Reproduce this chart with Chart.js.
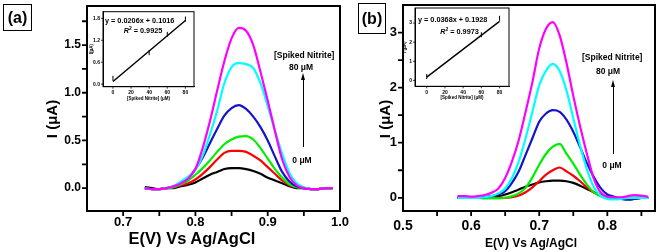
<!DOCTYPE html>
<html>
<head>
<meta charset="utf-8">
<script src="https://cdn.jsdelivr.net/npm/chart.js@4.4.0/dist/chart.umd.min.js"></script>
<style>
  body { margin: 0; background: #fff; }
  #wrap { position: relative; width: 661px; height: 252px; overflow: hidden; background: #fff; }
  canvas { position: absolute; }
  .t { position: absolute; white-space: nowrap; color: #000; line-height: 1;
       font-family: "Liberation Sans", Arial, sans-serif; font-weight: bold; }
  .mid { transform: translate(-50%, -50%); }
  .rot { transform: translate(-50%, -50%) rotate(-90deg); }
  .box { position: absolute; border: 1.5px solid #000; box-sizing: border-box; }
  .stem { position: absolute; width: 1.3px; background: #000; }
  .head { position: absolute; width: 0; height: 0; border-left: 2.5px solid transparent;
          border-right: 2.5px solid transparent; border-bottom: 7px solid #000; }
</style>
</head>
<body>
<div id="wrap">
  <canvas id="chartA" width="352" height="252" style="left:0;top:0"></canvas>
  <canvas id="chartB" width="331" height="252" style="left:330px;top:0"></canvas>
  <canvas id="insetA" width="114" height="96" style="left:89px;top:5px"></canvas>
  <canvas id="insetB" width="112" height="98" style="left:402px;top:2px"></canvas>

  <div class="box" style="left:3px;top:4px;width:29px;height:27px"></div>
  <div class="t mid" style="left:17.5px;top:18px;font-size:16px">(a)</div>
  <div class="box" style="left:358px;top:3px;width:28px;height:31px"></div>
  <div class="t mid" style="left:372px;top:19px;font-size:16px">(b)</div>

  <div class="t rot" style="left:51px;top:119px;font-size:15px">I (μA)</div>
  <div class="t rot" style="left:384px;top:119px;font-size:15px">I (μA)</div>
  <div class="t mid" style="left:192px;top:238px;font-size:16.5px">E(V) Vs Ag/AgCl</div>
  <div class="t mid" style="left:531px;top:243px;font-size:12px">E(V) Vs Ag/AgCl</div>

  <div class="t" style="left:105px;top:16.5px;font-size:7.3px">y = 0.0206x + 0.1016</div>
  <div class="t mid" style="left:143px;top:30px;font-size:7.3px"><i>R</i><sup style="font-size:5px">2</sup> = 0.9925</div>
  <div class="t" style="left:418px;top:16px;font-size:7.3px">y = 0.0368x + 0.1928</div>
  <div class="t mid" style="left:459.5px;top:30.5px;font-size:7.3px"><i>R</i><sup style="font-size:5px">2</sup> = 0.9973</div>

  <div class="t" style="left:274px;top:51px;font-size:8.5px">[Spiked Nitrite]</div>
  <div class="t mid" style="left:301px;top:67px;font-size:8.5px">80 μM</div>
  <div class="head" style="left:300.5px;top:73px"></div>
  <div class="stem" style="left:302.5px;top:78px;height:69px"></div>
  <div class="t mid" style="left:302px;top:160px;font-size:8.5px">0 μM</div>

  <div class="t" style="left:582px;top:53px;font-size:8.5px">[Spiked Nitrite]</div>
  <div class="t mid" style="left:608px;top:71px;font-size:8.5px">80 μM</div>
  <div class="head" style="left:610.5px;top:80px"></div>
  <div class="stem" style="left:612.5px;top:85px;height:69px"></div>
  <div class="t mid" style="left:612px;top:165px;font-size:8.5px">0 μM</div>
</div>

<script>
// panel (a): potential (V) and currents (uA)
const potentialA = [0.73, 0.74, 0.75, 0.76, 0.77, 0.78, 0.79, 0.80, 0.81, 0.82, 0.83, 0.84, 0.85, 0.86,
  0.87, 0.88, 0.89, 0.90, 0.91, 0.92, 0.93, 0.94, 0.95, 0.96, 0.97, 0.98, 0.99];
const blackA = [0.01, 0.0, -0.01, 0.0, 0.0, 0.02, 0.035, 0.06, 0.10, 0.14, 0.17, 0.20, 0.21, 0.21,
  0.20, 0.18, 0.15, 0.11, 0.08, 0.05, 0.02, 0.0, 0.0, -0.01, -0.01, 0.0, 0.0];
const redA = [0.0, -0.01, -0.01, 0.0, 0.01, 0.03, 0.05, 0.09, 0.15, 0.22, 0.30, 0.37, 0.39, 0.39,
  0.38, 0.34, 0.29, 0.22, 0.15, 0.08, 0.03, 0.01, 0.0, -0.01, -0.01, 0.0, 0.0];
const greenA = [0.0, -0.01, -0.01, 0.0, 0.01, 0.04, 0.08, 0.14, 0.21, 0.29, 0.38, 0.46, 0.51, 0.54,
  0.545, 0.51, 0.42, 0.31, 0.20, 0.11, 0.04, 0.01, 0.0, -0.01, -0.01, 0.0, 0.0];
const blueA = [0.0, -0.01, -0.01, 0.0, 0.02, 0.06, 0.11, 0.20, 0.32, 0.47, 0.62, 0.76, 0.84, 0.87,
  0.83, 0.75, 0.64, 0.50, 0.33, 0.17, 0.07, 0.02, 0.0, -0.01, -0.01, 0.0, 0.0];
const cyanA = [0.0, -0.01, -0.01, 0.0, 0.02, 0.07, 0.12, 0.19, 0.34, 0.56, 0.81, 1.10, 1.27, 1.31,
  1.30, 1.26, 1.10, 0.86, 0.60, 0.36, 0.16, 0.05, 0.01, -0.01, -0.01, 0.0, 0.0];
const magentaA = [0.0, -0.01, -0.01, 0.0, 0.02, 0.05, 0.10, 0.20, 0.42, 0.70, 1.02, 1.33, 1.57, 1.68,
  1.65, 1.50, 1.22, 0.92, 0.60, 0.30, 0.12, 0.03, 0.0, -0.01, -0.01, 0.0, 0.0];

// panel (b)
const potentialB = [0.58, 0.59, 0.60, 0.61, 0.62, 0.63, 0.64, 0.65, 0.66, 0.67, 0.68, 0.69, 0.70, 0.71,
  0.72, 0.73, 0.74, 0.75, 0.76, 0.77, 0.78, 0.79, 0.80, 0.81, 0.82, 0.83, 0.84, 0.85, 0.86];
const blackB = [0.0, 0.0, 0.0, 0.0, 0.0, 0.01, 0.03, 0.06, 0.10, 0.15, 0.20, 0.24, 0.28, 0.30,
  0.31, 0.31, 0.30, 0.27, 0.22, 0.16, 0.10, 0.05, 0.02, 0.0, -0.01, -0.03, -0.02, 0.0, 0.0];
const redB = [0.0, 0.0, 0.0, 0.0, 0.0, 0.0, 0.0, 0.0, 0.01, 0.04, 0.10, 0.19, 0.30, 0.42,
  0.50, 0.55, 0.48, 0.40, 0.30, 0.19, 0.10, 0.04, 0.01, 0.0, 0.0, 0.0, 0.0, 0.0, 0.0];
const greenB = [0.0, 0.0, 0.0, 0.0, -0.01, -0.01, -0.01, 0.0, 0.03, 0.08, 0.18, 0.37, 0.60, 0.80,
  0.93, 0.98, 0.80, 0.62, 0.42, 0.24, 0.10, 0.03, 0.0, 0.0, 0.0, 0.0, 0.0, 0.0, 0.0];
const blueB = [0.0, 0.0, 0.0, 0.0, 0.01, 0.03, 0.06, 0.12, 0.27, 0.48, 0.78, 1.08, 1.38, 1.53,
  1.59, 1.56, 1.42, 1.20, 0.92, 0.63, 0.38, 0.18, 0.06, 0.02, -0.02, -0.03, -0.02, 0.0, 0.0];
const cyanB = [0.0, 0.0, 0.0, 0.0, 0.01, 0.03, 0.08, 0.17, 0.36, 0.66, 1.08, 1.56, 2.04, 2.31,
  2.43, 2.30, 1.95, 1.45, 0.95, 0.52, 0.20, 0.04, -0.02, -0.03, -0.02, 0.0, 0.0, 0.0, 0.0];
const magentaB = [0.03, 0.03, 0.02, 0.03, 0.05, 0.09, 0.17, 0.36, 0.66, 1.05, 1.56, 2.10, 2.71, 3.07,
  3.19, 2.95, 2.45, 1.85, 1.30, 0.80, 0.35, 0.10, 0.02, 0.01, 0.01, 0.03, 0.05, 0.04, 0.02];

// insets: peak current vs spiked nitrite
const nitriteA = [0, 40, 60, 80];
const peakA = [0.16, 0.86, 1.36, 1.78];
const fitXA = [0, 80];
const fitYA = [0.07, 1.74];
const nitriteB = [0, 60, 80];
const peakB = [0.2, 2.39, 3.25];
const fitXB = [0, 80];
const fitYB = [0.17, 3.09];

const colors = ["#ff00ff", "#00ffff", "#1414c8", "#00ee00", "#ff0000", "#000000"];

Chart.defaults.font.family = "'Liberation Sans', Arial, sans-serif";
Chart.defaults.font.weight = "bold";
Chart.defaults.color = "#000";

// box round the plot area plus outward tick marks on x and y
const framePlugin = {
  id: "frame",
  afterDraw(chart, args, opts) {
    const a = chart.chartArea;
    const ctx = chart.ctx;
    const len = opts.tickLen || 3;
    ctx.save();
    ctx.strokeStyle = "#000";
    ctx.lineWidth = opts.width || 1;
    ctx.strokeRect(a.left, a.top, a.right - a.left, a.bottom - a.top);
    ctx.lineWidth = opts.tickWidth || 1;
    ctx.beginPath();
    chart.scales.x.ticks.forEach((t) => {
      const px = chart.scales.x.getPixelForValue(t.value);
      if (px < a.left + 1 || px > a.right - 1) return;
      ctx.moveTo(px, a.bottom);
      ctx.lineTo(px, a.bottom + len);
    });
    chart.scales.y.ticks.forEach((t) => {
      const py = chart.scales.y.getPixelForValue(t.value);
      if (py < a.top + 1 || py > a.bottom - 1) return;
      ctx.moveTo(a.left, py);
      ctx.lineTo(a.left - len, py);
    });
    ctx.stroke();
    ctx.restore();
  }
};

function fixSize(w, h) {
  return function (scale) {
    if (w !== null) scale.width = w;
    if (h !== null) scale.height = h;
    scale.paddingTop = 0;
    scale.paddingBottom = 0;
    scale.paddingLeft = 0;
    scale.paddingRight = 0;
  };
}

function toPoints(xs, ys) {
  return xs.map((x, i) => ({ x: x, y: ys[i] }));
}

function mainChart(id, xs, series, opt) {
  const ctx = document.getElementById(id).getContext("2d");
  const datasets = series.map((ys, i) => ({
    data: toPoints(xs, ys),
    borderColor: colors[i],
    borderWidth: 2.2,
    pointRadius: 0,
    cubicInterpolationMode: "monotone",
    fill: false
  }));
  return new Chart(ctx, {
    type: "line",
    data: { datasets: datasets },
    plugins: [framePlugin],
    options: {
      responsive: false,
      animation: false,
      layout: { padding: opt.padding },
      plugins: {
        legend: { display: false },
        tooltip: { enabled: false },
        frame: { width: 2, tickWidth: 1.8, tickLen: 5 }
      },
      scales: {
        x: {
          type: "linear",
          min: opt.xMin,
          max: opt.xMax,
          afterFit: fixSize(null, 41),
          border: { color: "#000", width: 2 },
          grid: { display: false, drawTicks: false },
          ticks: {
            stepSize: 0.05,
            includeBounds: false,
            autoSkip: false,
            maxRotation: 0,
            padding: opt.xPad,
            font: { size: opt.xFont, weight: "bold" },
            callback: (v) => {
              const r = Math.round(v * 10);
              return Math.abs(v * 10 - r) < 1e-6 ? (r / 10).toFixed(1) : "";
            }
          }
        },
        y: {
          min: opt.yMin,
          max: opt.yMax,
          afterFit: fixSize(opt.yWidth, null),
          border: { color: "#000", width: 2 },
          grid: { display: false, drawTicks: false },
          ticks: {
            stepSize: opt.yStep,
            includeBounds: false,
            autoSkip: false,
            padding: 6,
            font: { size: opt.yFont, weight: "bold" },
            callback: opt.yLabel
          }
        }
      }
    }
  });
}

function insetChart(id, xs, ys, fx, fy, opt) {
  const ctx = document.getElementById(id).getContext("2d");
  return new Chart(ctx, {
    type: "scatter",
    data: {
      datasets: [
        {
          type: "line",
          data: toPoints(fx, fy),
          borderColor: "#000",
          borderWidth: 1.4,
          pointRadius: 0
        },
        {
          data: toPoints(xs, ys),
          pointStyle: "line",
          rotation: 90,
          pointRadius: 2.5,
          borderColor: "#000",
          borderWidth: 1,
          backgroundColor: "#000"
        }
      ]
    },
    plugins: [framePlugin],
    options: {
      responsive: false,
      animation: false,
      layout: { padding: opt.padding },
      plugins: {
        legend: { display: false },
        tooltip: { enabled: false },
        frame: { width: 1, tickWidth: 0.8, tickLen: 2 }
      },
      scales: {
        x: {
          type: "linear",
          min: opt.xMin,
          max: opt.xMax,
          afterFit: fixSize(null, opt.xHeight),
          border: { color: "#000", width: 1 },
          grid: { display: false, drawTicks: false },
          ticks: { stepSize: 20, includeBounds: false, autoSkip: false, maxRotation: 0, padding: 3,
                   font: { size: 5, weight: "bold" } },
          title: { display: true, text: "[Spiked Nitrite] (μM)", padding: 0, font: { size: 4.5, weight: "bold" } }
        },
        y: {
          min: opt.yMin,
          max: opt.yMax,
          afterFit: fixSize(opt.yWidth, null),
          border: { color: "#000", width: 1 },
          grid: { display: false, drawTicks: false },
          ticks: { stepSize: opt.yStep, includeBounds: false, autoSkip: false, padding: 3,
                   font: { size: 5, weight: "bold" }, callback: opt.yLabel },
          title: { display: true, text: opt.yTitle, padding: 0, font: { size: 4.5, weight: "bold" } }
        }
      }
    }
  });
}

mainChart("chartA", potentialA, [magentaA, cyanA, blueA, greenA, redA, blackA], {
  padding: { left: 0, top: 6, right: 12, bottom: 0 },
  xMin: 0.65, xMax: 1.0, yMin: -0.24, yMax: 1.91, yStep: 0.25, yWidth: 87,
  xFont: 13, yFont: 12, xPad: 4,
  yLabel: (v) => {
    const r = Math.round(v * 2);
    return Math.abs(v * 2 - r) < 1e-6 ? (r / 2).toFixed(1) : "";
  }
});

mainChart("chartB", potentialB, [magentaB, cyanB, blueB, greenB, redB, blackB], {
  padding: { left: 0, top: 5, right: 6, bottom: 0 },
  xMin: 0.5, xMax: 0.87, yMin: -0.24, yMax: 3.5, yStep: 0.5, yWidth: 73,
  xFont: 14, yFont: 13, xPad: 7,
  yLabel: (v) => {
    const r = Math.round(v);
    return Math.abs(v - r) < 1e-6 ? String(r) : "";
  }
});

insetChart("insetA", nitriteA, peakA, fitXA, fitYA, {
  padding: { left: 0, top: 6.7, right: 9, bottom: 0 },
  xMin: -11, xMax: 89.5, yMin: -0.07, yMax: 1.98, yStep: 0.6, yWidth: 14, xHeight: 14.3,
  yTitle: "I(μA)",
  yLabel: (v) => v.toFixed(1)
});

insetChart("insetB", nitriteB, peakB, fitXB, fitYB, {
  padding: { left: 0, top: 6, right: 5, bottom: 0 },
  xMin: -12.9, xMax: 90.4, yMin: -0.31, yMax: 3.79, yStep: 1, yWidth: 13, xHeight: 13.7,
  yTitle: "I (μA)",
  yLabel: (v) => String(Math.round(v))
});
</script>
</body>
</html>
